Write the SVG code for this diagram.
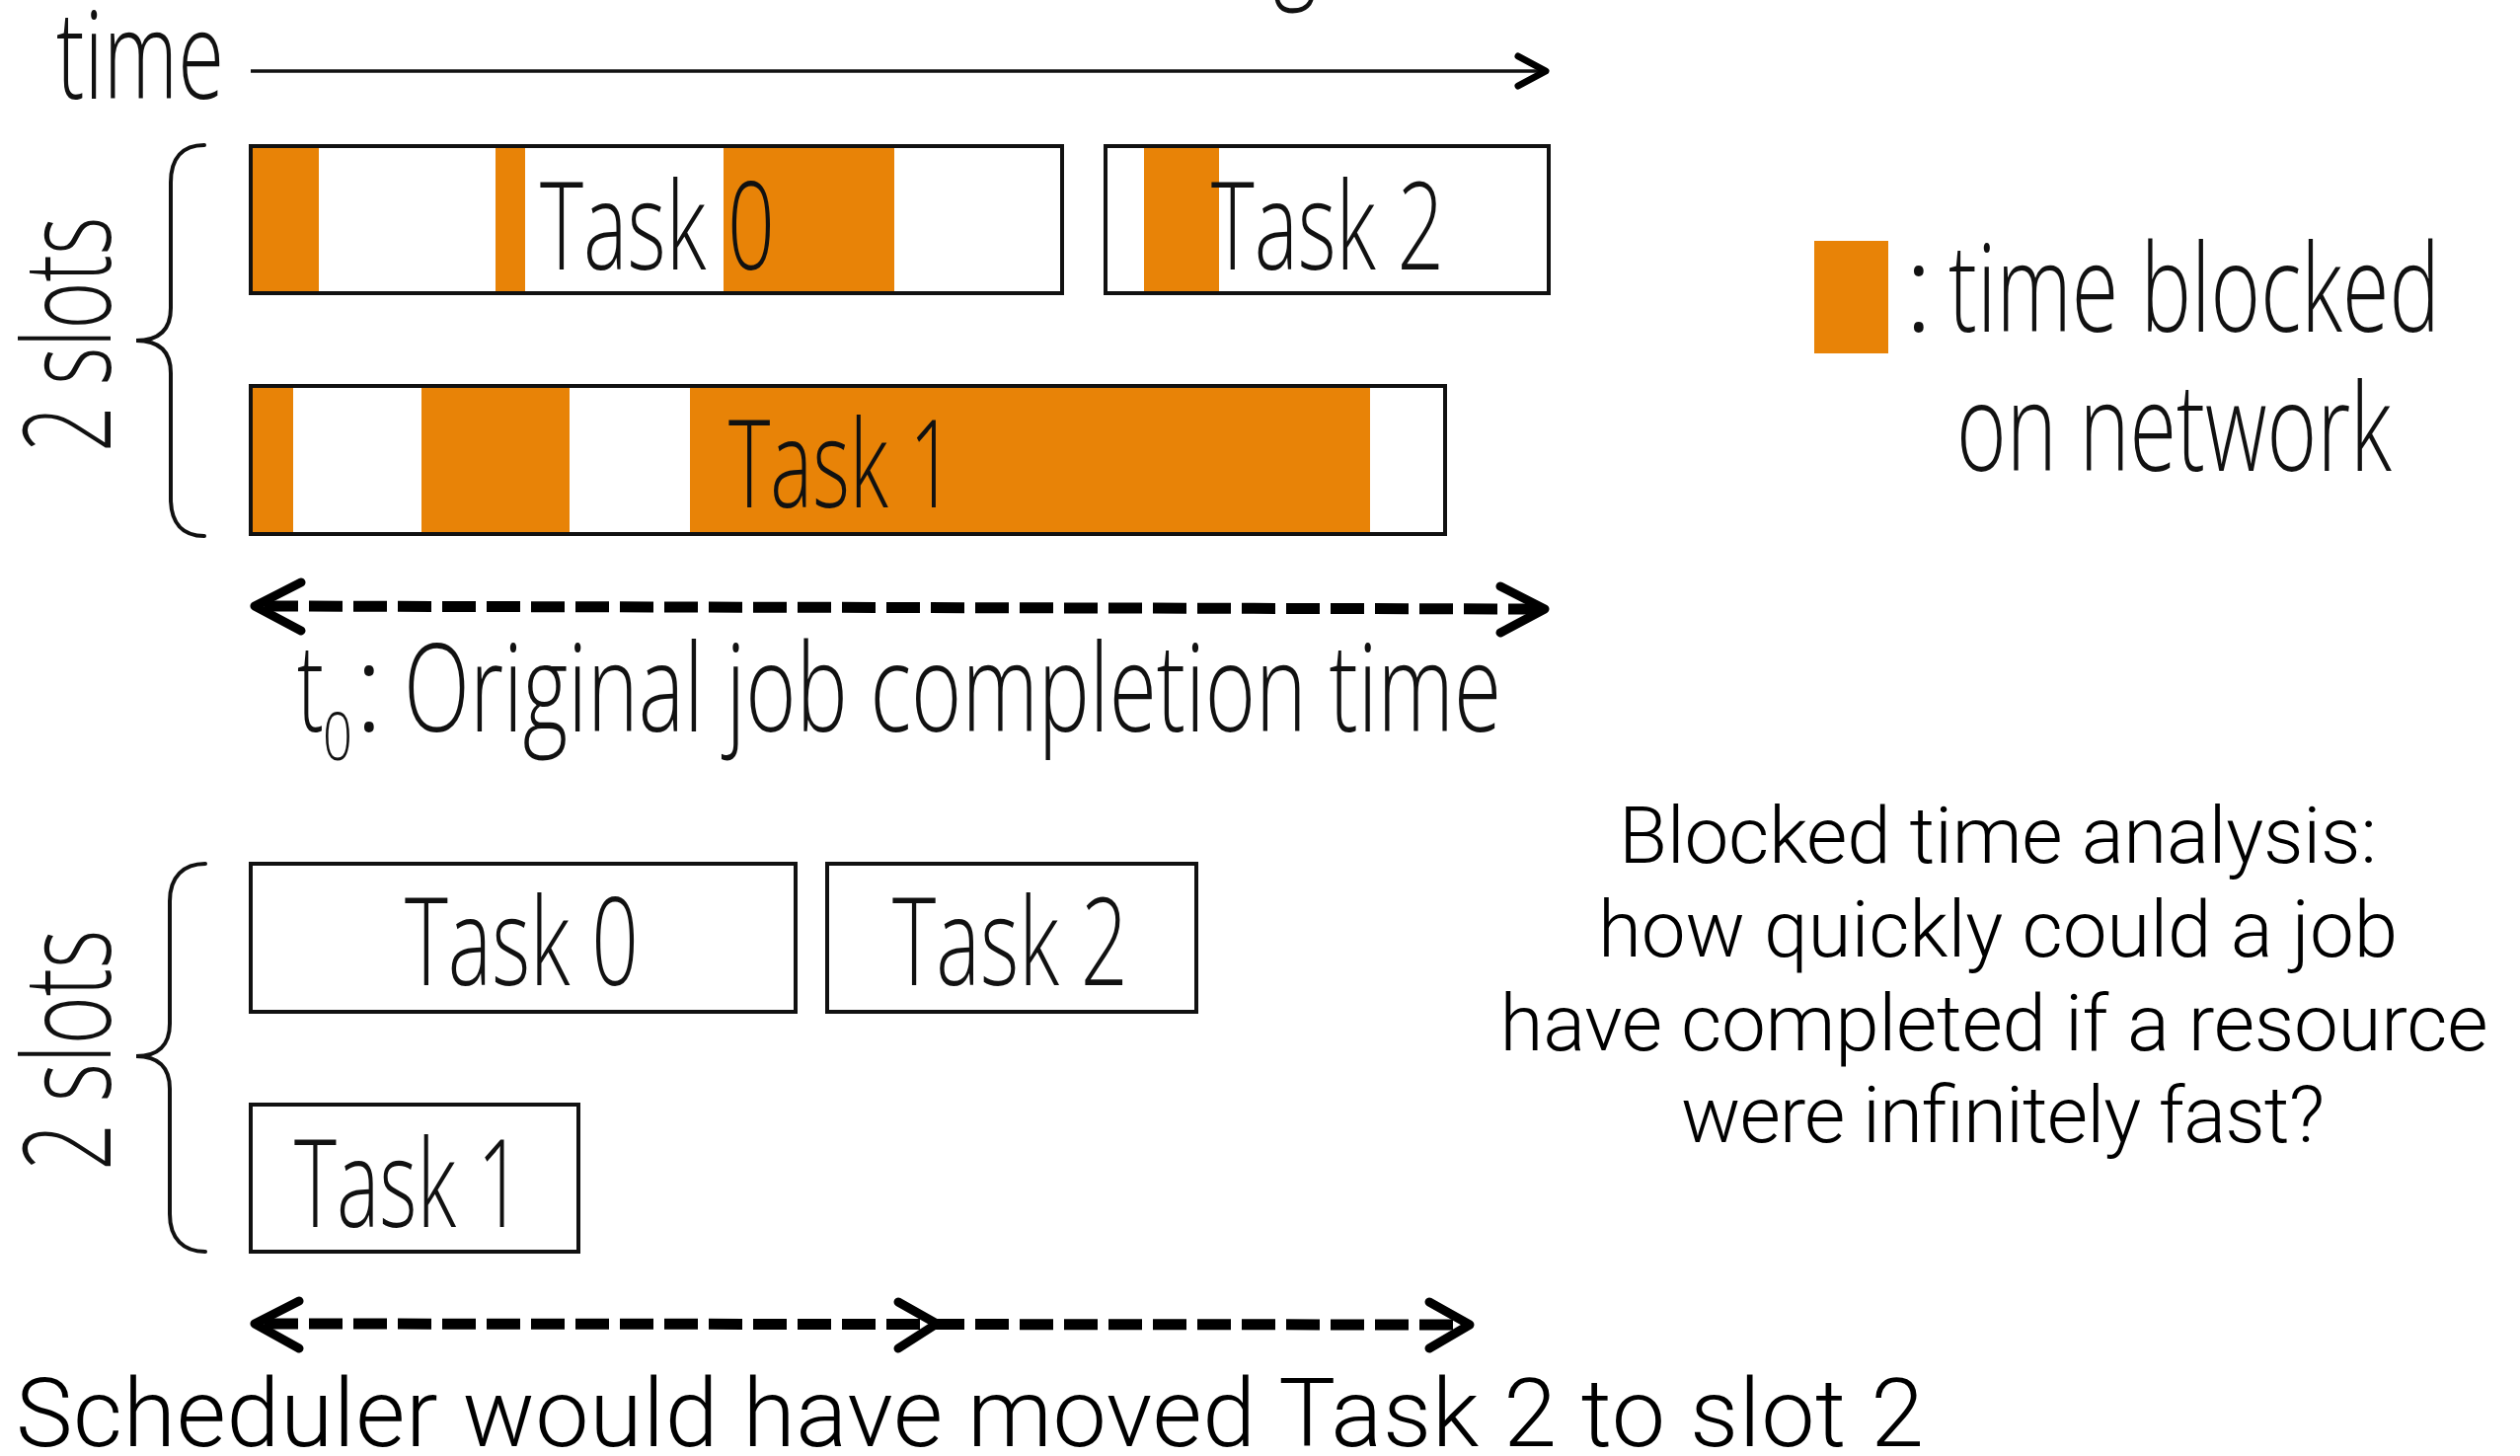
<svg xmlns="http://www.w3.org/2000/svg" width="2553" height="1475" viewBox="0 0 2553 1475">
  <style>
    .cond { font-family: "Open Sans", "DejaVu Sans", sans-serif; font-weight: 300; font-size: 124px; fill: #111; }
    .sans { font-family: Roboto, "Liberation Sans", Arial, sans-serif; font-weight: 300; font-size: 80px; fill: #000; }
    .box { fill: #fff; stroke: #111; stroke-width: 4; }
    .frame { fill: none; stroke: #111; stroke-width: 4; }
    .blk { fill: #e88307; }
    .brace { fill: none; stroke: #111; stroke-width: 4; stroke-linecap: round; }
    .dash { stroke: #000; stroke-width: 11; stroke-dasharray: 34 11; fill: none; }
    .chev { fill: none; stroke: #000; stroke-width: 9; stroke-linecap: round; stroke-linejoin: round; }
  </style>
  <rect width="2553" height="1475" fill="#fff"/>

  <!-- descender of the heading above the frame -->
  <text class="cond" x="1290" y="-16" textLength="44" lengthAdjust="spacingAndGlyphs">g</text>

  <!-- time axis -->
  <g id="time-axis">
    <text class="cond" x="57" y="100" textLength="170" lengthAdjust="spacingAndGlyphs">time</text>
    <line x1="254" y1="72" x2="1564" y2="72" stroke="#111" stroke-width="3.5"/>
    <polyline points="1538,57 1566,72 1538,87" fill="none" stroke="#000" stroke-width="7" stroke-linecap="round" stroke-linejoin="round"/>
  </g>

  <!-- original schedule -->
  <g id="slots-original">
    <path class="brace" d="M207,147 C185,147 173,160 173,185 L173,312 C173,334 161,345 138,345 C161,345 173,356 173,378 L173,505 C173,530 185,543 207,543"/>
    <text class="cond" transform="rotate(-90 112 339)" x="112" y="339" text-anchor="middle" textLength="238" lengthAdjust="spacingAndGlyphs">2 slots</text>
  </g>

  <g id="task0-original">
    <rect class="box" x="254" y="148" width="822" height="149"/>
    <rect class="blk" x="254" y="148" width="69" height="149"/>
    <rect class="blk" x="502" y="148" width="30" height="149"/>
    <rect class="blk" x="733" y="148" width="173" height="149"/>
    <rect class="frame" x="254" y="148" width="822" height="149"/>
    <text class="cond" x="547" y="273" textLength="238" lengthAdjust="spacingAndGlyphs">Task 0</text>
  </g>

  <g id="task2-original">
    <rect class="box" x="1120" y="148" width="449" height="149"/>
    <rect class="blk" x="1159" y="148" width="76" height="149"/>
    <rect class="frame" x="1120" y="148" width="449" height="149"/>
    <text class="cond" x="1227" y="273" textLength="236" lengthAdjust="spacingAndGlyphs">Task 2</text>
  </g>

  <g id="task1-original">
    <rect class="box" x="254" y="391" width="1210" height="150"/>
    <rect class="blk" x="254" y="391" width="43" height="150"/>
    <rect class="blk" x="427" y="391" width="150" height="150"/>
    <rect class="blk" x="699" y="391" width="689" height="150"/>
    <rect class="frame" x="254" y="391" width="1210" height="150"/>
    <text class="cond" x="738" y="514" textLength="229" lengthAdjust="spacingAndGlyphs">Task 1</text>
  </g>

  <!-- legend -->
  <g id="legend">
    <rect class="blk" x="1838" y="244" width="75" height="114"/>
    <text class="cond" x="1929" y="336">:</text>
    <text class="cond" x="1974" y="336" textLength="498" lengthAdjust="spacingAndGlyphs">time blocked</text>
    <text class="cond" x="1982" y="477" textLength="441" lengthAdjust="spacingAndGlyphs">on network</text>
  </g>

  <!-- completion time label -->
  <g id="t0-label">
    <text class="cond" x="301" y="741" textLength="27" lengthAdjust="spacingAndGlyphs">t</text>
    <text class="cond" x="327" y="770" style="font-size:66px" textLength="30" lengthAdjust="spacingAndGlyphs">0</text>
    <text class="cond" x="359" y="741">:</text>
    <text class="cond" x="409" y="741" textLength="1112" lengthAdjust="spacingAndGlyphs">Original job completion time</text>
  </g>

  <!-- faster schedule -->
  <g id="slots-faster">
    <path class="brace" d="M208,875 C186,875 172,888 172,913 L172,1037 C172,1059 160,1070 138,1070 C160,1070 172,1081 172,1103 L172,1230 C172,1255 186,1268 208,1268"/>
    <text class="cond" transform="rotate(-90 112 1064)" x="112" y="1064" text-anchor="middle" textLength="244" lengthAdjust="spacingAndGlyphs">2 slots</text>
  </g>

  <g id="task0-faster">
    <rect class="box" x="254" y="875" width="552" height="150"/>
    <text class="cond" x="410" y="998" textLength="237" lengthAdjust="spacingAndGlyphs">Task 0</text>
  </g>

  <g id="task2-faster">
    <rect class="box" x="838" y="875" width="374" height="150"/>
    <text class="cond" x="904" y="998" textLength="239" lengthAdjust="spacingAndGlyphs">Task 2</text>
  </g>

  <g id="task1-faster">
    <rect class="box" x="254" y="1119" width="332" height="149"/>
    <text class="cond" x="298" y="1243" textLength="232" lengthAdjust="spacingAndGlyphs">Task 1</text>
  </g>

  <!-- duration arrows -->
  <g id="connectors">
    <line class="dash" x1="268" y1="614" x2="1556" y2="617"/>
    <polyline class="chev" points="305,590 258,614 305,639"/>
    <polyline class="chev" points="1520,594 1565,617 1520,641"/>

    <line class="dash" x1="268" y1="1341" x2="1480" y2="1342"/>
    <polyline class="chev" points="303,1318 258,1341 303,1366"/>
    <polyline class="chev" points="910,1319 949,1341 910,1366"/>
    <polyline class="chev" points="1448,1319 1489,1342 1448,1366"/>
  </g>

  <!-- caption -->
  <g id="analysis-note">
    <text class="sans" x="2024" y="874" text-anchor="middle" textLength="768">Blocked time analysis:</text>
    <text class="sans" x="2024" y="969" text-anchor="middle" textLength="810">how quickly could a job</text>
    <text class="sans" x="2020" y="1064" text-anchor="middle" textLength="1001">have completed if a resource</text>
    <text class="sans" x="2029" y="1157" text-anchor="middle" textLength="652">were infinitely fast?</text>
  </g>

  <text class="sans" x="16" y="1465" style="font-size:97px" textLength="1933">Scheduler would have moved Task 2 to slot 2</text>
</svg>
